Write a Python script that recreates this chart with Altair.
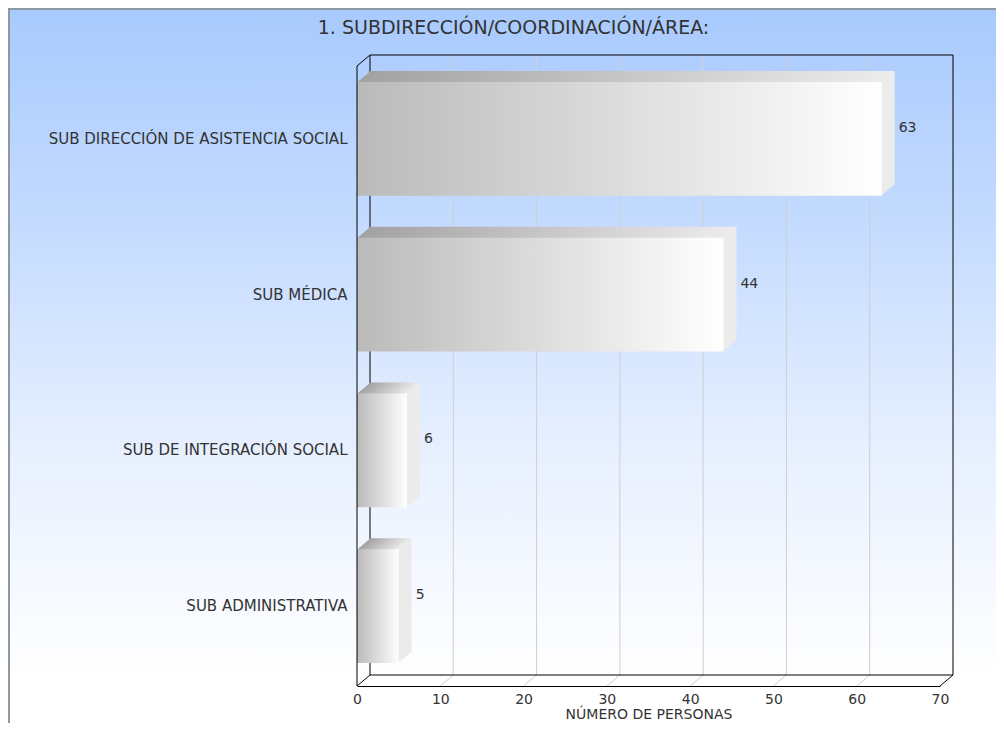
import altair as alt
import pandas as pd

# ---- data ----
categories = [
    "SUB DIRECCIÓN DE ASISTENCIA SOCIAL",
    "SUB MÉDICA",
    "SUB DE INTEGRACIÓN SOCIAL",
    "SUB ADMINISTRATIVA",
]
values = [63, 44, 6, 5]
x_ticks = [0, 10, 20, 30, 40, 50, 60, 70]
title_text = "1. SUBDIRECCIÓN/COORDINACIÓN/ÁREA:"
x_title = "NÚMERO DE PERSONAS"

# ---- geometry / style ----
W, H = 583, 620          # front plot rectangle
DX, DY = 13, 11          # 3D depth offset in pixels
X_MAX = 70
PAD_L, PAD_T, PAD_R, PAD_B = 349, 58, 56, 37
FONT = "DejaVu Sans"
TXT = "#333333"

bars = pd.DataFrame({"cat": categories, "val": values})
ticks = pd.DataFrame({"tick": x_ticks})
one = pd.DataFrame({"z": [0]})


def xscale(shift=0.0):
    return alt.Scale(domain=[0, X_MAX], range=[shift, W + shift], nice=False, zero=True)


def yscale(shift=0.0):
    return alt.Scale(domain=categories, range=[-5 - shift, 618 - shift],
                     paddingInner=0.27, paddingOuter=0.135)


bg_grad = alt.Gradient(
    gradient="linear", x1=0, x2=0, y1=0, y2=1,
    stops=[alt.GradientStop(offset=0, color="#a8cafd"),
           alt.GradientStop(offset=0.30, color="#c4dbff"),
           alt.GradientStop(offset=0.64, color="#e9f1ff"),
           alt.GradientStop(offset=0.94, color="#ffffff"),
           alt.GradientStop(offset=1, color="#ffffff")])
top_grad = alt.Gradient(
    gradient="linear", x1=0, x2=1, y1=0, y2=0,
    stops=[alt.GradientStop(offset=0, color="#a2a2a2"),
           alt.GradientStop(offset=1, color="#ececec")])
front_grad = alt.Gradient(
    gradient="linear", x1=0, x2=1, y1=0, y2=0,
    stops=[alt.GradientStop(offset=0, color="#bababa"),
           alt.GradientStop(offset=1, color="#ffffff")])

layers = []

# background panel
layers.append(alt.Chart(one).mark_rect(fill=bg_grad).encode(
    x=alt.value(-PAD_L), x2=alt.value(W + PAD_R), y=alt.value(-PAD_T), y2=alt.value(H + PAD_B)))
layers.append(alt.Chart(one).mark_rule(color="#8d98a3", strokeWidth=2).encode(
    x=alt.value(-PAD_L + 1), y=alt.value(-PAD_T), y2=alt.value(H + PAD_B)))
layers.append(alt.Chart(one).mark_rule(color="#8d98a3", strokeWidth=2).encode(
    x=alt.value(-PAD_L), x2=alt.value(W + PAD_R), y=alt.value(-PAD_T + 1)))

# back wall grid lines
layers.append(alt.Chart(ticks).transform_filter("datum.tick > 0 && datum.tick < 70")
              .mark_rule(color="#cfcfcf").encode(
    x=alt.X("tick:Q", scale=xscale(DX), axis=None),
    y=alt.value(-DY), y2=alt.value(H - DY)))

# floor diagonals
layers.append(alt.Chart(ticks).transform_filter("datum.tick > 0 && datum.tick < 70")
              .transform_calculate(tb=f"datum.tick + {X_MAX * DX / W}")
              .mark_rule(color="#cfcfcf").encode(
    x=alt.X("tick:Q", scale=xscale(0), axis=None), x2="tb:Q",
    y=alt.value(H), y2=alt.value(H - DY)))
layers.append(alt.Chart(ticks).transform_filter("datum.tick == 0 || datum.tick == 70")
              .transform_calculate(tb=f"datum.tick + {X_MAX * DX / W}")
              .mark_rule(color="black").encode(
    x=alt.X("tick:Q", scale=xscale(0), axis=None), x2="tb:Q",
    y=alt.value(H), y2=alt.value(H - DY)))

# back wall frame
layers.append(alt.Chart(one).mark_rect(fillOpacity=0, stroke="black", strokeWidth=1).encode(
    x=alt.value(DX), x2=alt.value(W + DX), y=alt.value(-DY), y2=alt.value(H - DY)))
# top-left diagonal
layers.append(alt.Chart(one).mark_rule(color="black").encode(
    x=alt.value(0), x2=alt.value(DX), y=alt.value(0), y2=alt.value(-DY)))

# 3D extrusion of bars (top & side faces)
for k in range(DX, 0, -1):
    ys = k * DY / DX
    layers.append(alt.Chart(bars).mark_bar(fill=top_grad, cornerRadius=0).encode(
        x=alt.X("val:Q", scale=xscale(k), axis=None),
        y=alt.Y("cat:N", scale=yscale(ys), axis=None, sort=categories)))

# front face with axes
layers.append(alt.Chart(bars).mark_bar(fill=front_grad, cornerRadius=0).encode(
    x=alt.X("val:Q", scale=xscale(0), title=x_title,
            axis=alt.Axis(orient="bottom", zindex=2, values=x_ticks, grid=False, ticks=False,
                          domainColor="black", domainWidth=1, labelFont=FONT,
                          labelFontSize=14, labelColor=TXT, labelPadding=6,
                          titleFont=FONT, titleFontSize=14, titleFontWeight="normal",
                          titleColor=TXT, titlePadding=1, labelFlush=False)),
    y=alt.Y("cat:N", scale=yscale(0), sort=categories, title=None,
            axis=alt.Axis(orient="left", zindex=2, ticks=False, domain=False,
                          labelPadding=10, labelLimit=400, labelFont=FONT,
                          labelFontSize=15, labelColor=TXT))))

# front-left edge
layers.append(alt.Chart(one).mark_rule(color="black").encode(
    x=alt.value(0), y=alt.value(0), y2=alt.value(H)))

# value labels
layers.append(alt.Chart(bars).mark_text(align="left", baseline="middle", dx=4,
                                        font=FONT, fontSize=14, color=TXT).encode(
    x=alt.X("val:Q", scale=xscale(DX), axis=None),
    y=alt.Y("cat:N", scale=yscale(DY), axis=None, sort=categories),
    text="val:Q"))

chart = alt.layer(*layers).resolve_scale(x="independent", y="independent").properties(
    width=W, height=H,
    title=alt.TitleParams(title_text, font=FONT, fontSize=19, fontWeight="normal",
                          color=TXT, frame="group", anchor="middle", dx=-135,
                          baseline="alphabetic", offset=-46),
    padding={"left": PAD_L, "top": PAD_T, "right": PAD_R, "bottom": PAD_B},
    autosize=alt.AutoSizeParams(type="none"),
).configure_view(stroke=None).configure(background="white")

chart.save("out.html", embed_options={"renderer": "svg", "actions": False})
